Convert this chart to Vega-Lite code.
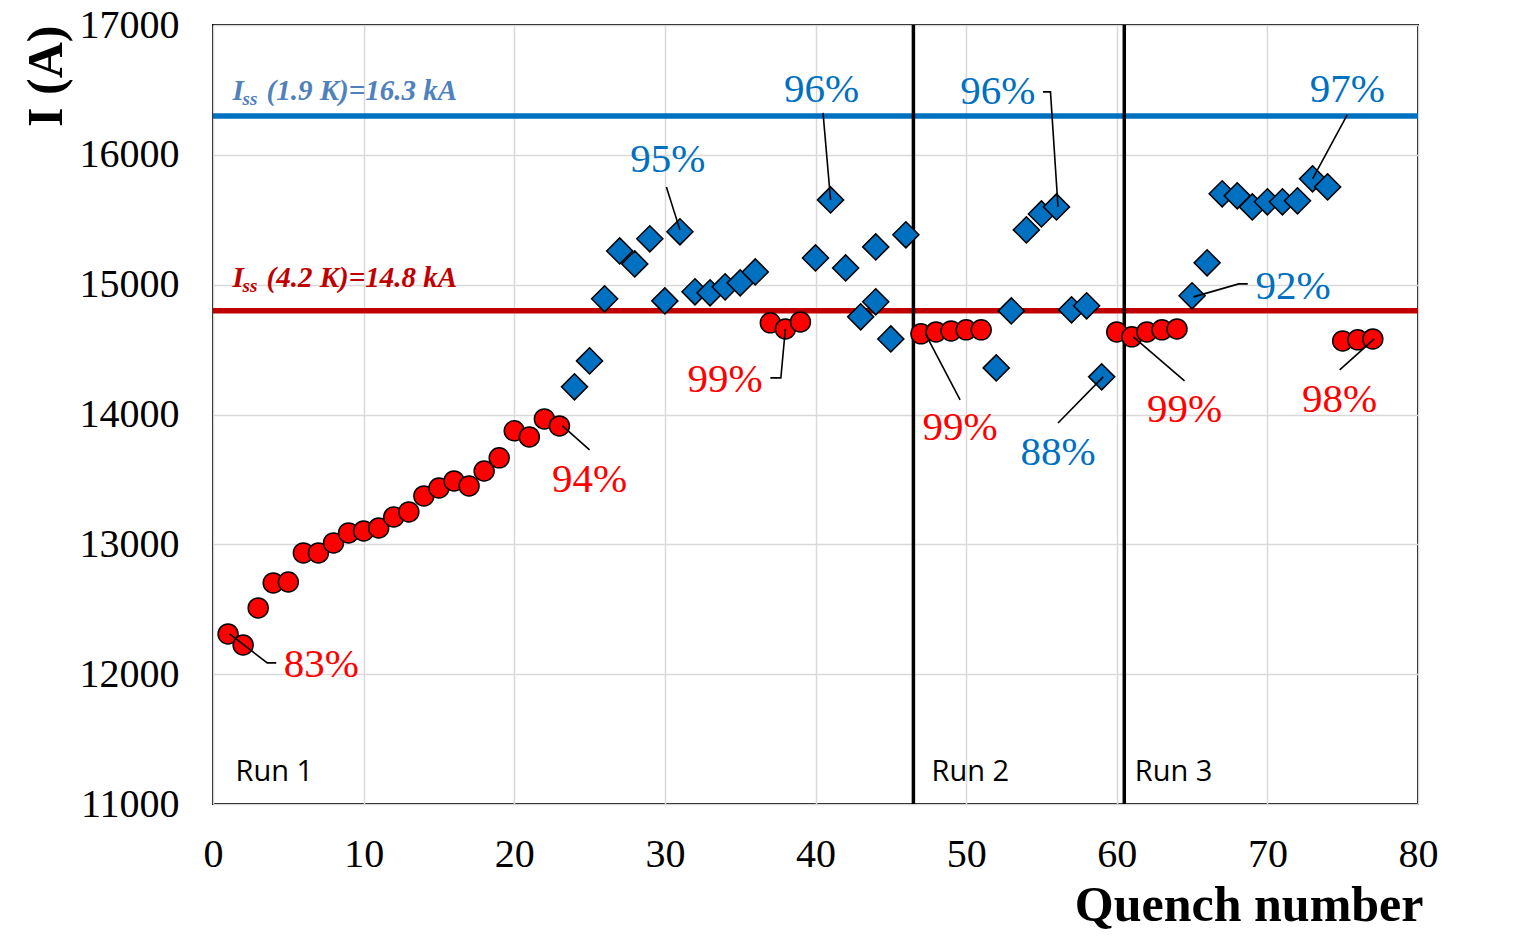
{
  "$schema": "https://vega.github.io/schema/vega-lite/v6.json",
  "width": 1205,
  "height": 779,
  "autosize": "none",
  "padding": {"left": 213, "top": 25, "right": 99, "bottom": 140},
  "background": "white",
  "config": {
    "view": {"stroke": "#000000", "strokeWidth": 2},
    "axis": {
      "labelFont": "Liberation Serif",
      "labelFontSize": 40,
      "labelColor": "#000000",
      "titleFont": "Liberation Serif",
      "titleFontSize": 50,
      "titleFontWeight": "bold",
      "titleColor": "#000000",
      "gridColor": "#D9D9D9",
      "gridWidth": 1.5,
      "domain": false,
      "ticks": false,
      "labelFlush": false,
      "labelOverlap": false
    }
  },
  "resolve": {"scale": {"color": "independent"}},
  "datasets": {
    "points": [
      {"q": 1, "I": 12310, "t": "4.2"}, {"q": 2, "I": 12225, "t": "4.2"}, {"q": 3, "I": 12510, "t": "4.2"},
      {"q": 4, "I": 12703, "t": "4.2"}, {"q": 5, "I": 12710, "t": "4.2"}, {"q": 6, "I": 12934, "t": "4.2"},
      {"q": 7, "I": 12934, "t": "4.2"}, {"q": 8, "I": 13011, "t": "4.2"}, {"q": 9, "I": 13088, "t": "4.2"},
      {"q": 10, "I": 13103, "t": "4.2"}, {"q": 11, "I": 13126, "t": "4.2"}, {"q": 12, "I": 13211, "t": "4.2"},
      {"q": 13, "I": 13250, "t": "4.2"}, {"q": 14, "I": 13373, "t": "4.2"}, {"q": 15, "I": 13434, "t": "4.2"},
      {"q": 16, "I": 13488, "t": "4.2"}, {"q": 17, "I": 13450, "t": "4.2"}, {"q": 18, "I": 13565, "t": "4.2"},
      {"q": 19, "I": 13666, "t": "4.2"}, {"q": 20, "I": 13874, "t": "4.2"}, {"q": 21, "I": 13827, "t": "4.2"},
      {"q": 22, "I": 13966, "t": "4.2"}, {"q": 23, "I": 13912, "t": "4.2"},
      {"q": 24, "I": 14213, "t": "1.9"}, {"q": 25, "I": 14413, "t": "1.9"}, {"q": 26, "I": 14891, "t": "1.9"},
      {"q": 27, "I": 15260, "t": "1.9"}, {"q": 28, "I": 15160, "t": "1.9"}, {"q": 29, "I": 15353, "t": "1.9"},
      {"q": 30, "I": 14875, "t": "1.9"}, {"q": 31, "I": 15407, "t": "1.9"}, {"q": 32, "I": 14945, "t": "1.9"},
      {"q": 33, "I": 14937, "t": "1.9"}, {"q": 34, "I": 14983, "t": "1.9"}, {"q": 35, "I": 15014, "t": "1.9"},
      {"q": 36, "I": 15098, "t": "1.9"},
      {"q": 37, "I": 14706, "t": "4.2"}, {"q": 38, "I": 14659, "t": "4.2"}, {"q": 39, "I": 14713, "t": "4.2"},
      {"q": 40, "I": 15206, "t": "1.9"}, {"q": 41, "I": 15653, "t": "1.9"}, {"q": 42, "I": 15129, "t": "1.9"},
      {"q": 43, "I": 14752, "t": "1.9"}, {"q": 44, "I": 14868, "t": "1.9"}, {"q": 44, "I": 15291, "t": "1.9"},
      {"q": 45, "I": 14582, "t": "1.9"}, {"q": 46, "I": 15384, "t": "1.9"},
      {"q": 47, "I": 14621, "t": "4.2"}, {"q": 48, "I": 14636, "t": "4.2"}, {"q": 49, "I": 14644, "t": "4.2"},
      {"q": 50, "I": 14652, "t": "4.2"}, {"q": 51, "I": 14652, "t": "4.2"},
      {"q": 52, "I": 14359, "t": "1.9"}, {"q": 53, "I": 14798, "t": "1.9"}, {"q": 54, "I": 15422, "t": "1.9"},
      {"q": 55, "I": 15545, "t": "1.9"}, {"q": 56, "I": 15599, "t": "1.9"}, {"q": 57, "I": 14806, "t": "1.9"},
      {"q": 58, "I": 14837, "t": "1.9"}, {"q": 59, "I": 14290, "t": "1.9"},
      {"q": 60, "I": 14636, "t": "4.2"}, {"q": 61, "I": 14598, "t": "4.2"}, {"q": 62, "I": 14636, "t": "4.2"},
      {"q": 63, "I": 14652, "t": "4.2"}, {"q": 64, "I": 14659, "t": "4.2"},
      {"q": 65, "I": 14914, "t": "1.9"}, {"q": 66, "I": 15168, "t": "1.9"}, {"q": 67, "I": 15700, "t": "1.9"},
      {"q": 68, "I": 15684, "t": "1.9"}, {"q": 69, "I": 15599, "t": "1.9"}, {"q": 70, "I": 15638, "t": "1.9"},
      {"q": 71, "I": 15638, "t": "1.9"}, {"q": 72, "I": 15646, "t": "1.9"}, {"q": 73, "I": 15815, "t": "1.9"},
      {"q": 74, "I": 15753, "t": "1.9"},
      {"q": 75, "I": 14567, "t": "4.2"}, {"q": 76, "I": 14575, "t": "4.2"}, {"q": 77, "I": 14582, "t": "4.2"}
    ],
    "limits": [
      {"I": 16300, "t": "1.9"},
      {"I": 14800, "t": "4.2"}
    ],
    "runs": [
      {"q": 46.5},
      {"q": 60.5}
    ],
    "runlabels": [
      {"q": 1.5, "I": 11246, "label": "Run 1"},
      {"q": 47.7, "I": 11246, "label": "Run 2"},
      {"q": 61.2, "I": 11246, "label": "Run 3"}
    ],
    "isslabels": [
      {"q": 1.3, "I": 16424, "t": "1.9", "rest": "(1.9 K)=16.3 kA"},
      {"q": 1.3, "I": 14983, "t": "4.2", "rest": "(4.2 K)=14.8 kA"}
    ],
    "pct": [
      {"q": 7.2, "I": 12071, "t": "4.2", "label": "83%"},
      {"q": 25.0, "I": 13496, "t": "4.2", "label": "94%"},
      {"q": 30.2, "I": 15961, "t": "1.9", "label": "95%"},
      {"q": 34.0, "I": 14267, "t": "4.2", "label": "99%"},
      {"q": 40.4, "I": 16501, "t": "1.9", "label": "96%"},
      {"q": 52.1, "I": 16485, "t": "1.9", "label": "96%"},
      {"q": 49.6, "I": 13897, "t": "4.2", "label": "99%"},
      {"q": 56.1, "I": 13704, "t": "1.9", "label": "88%"},
      {"q": 64.5, "I": 14035, "t": "4.2", "label": "99%"},
      {"q": 71.7, "I": 14983, "t": "1.9", "label": "92%"},
      {"q": 75.3, "I": 16501, "t": "1.9", "label": "97%"},
      {"q": 74.8, "I": 14112, "t": "4.2", "label": "98%"}
    ],
    "leaders": [
      {"id": "a", "s": 1, "q": 1.1, "I": 12310}, {"id": "a", "s": 2, "q": 3.6, "I": 12087}, {"id": "a", "s": 3, "q": 4.2, "I": 12087},
      {"id": "b", "s": 1, "q": 23.2, "I": 13912}, {"id": "b", "s": 2, "q": 25.0, "I": 13727},
      {"id": "c", "s": 1, "q": 30.1, "I": 15753}, {"id": "c", "s": 2, "q": 31.0, "I": 15422},
      {"id": "d", "s": 1, "q": 37.0, "I": 14282}, {"id": "d", "s": 2, "q": 37.7, "I": 14282}, {"id": "d", "s": 3, "q": 38.0, "I": 14659},
      {"id": "e", "s": 1, "q": 40.5, "I": 16323}, {"id": "e", "s": 2, "q": 41.0, "I": 15653},
      {"id": "f", "s": 1, "q": 55.1, "I": 16485}, {"id": "f", "s": 2, "q": 55.6, "I": 16485}, {"id": "f", "s": 3, "q": 56.1, "I": 15599},
      {"id": "g", "s": 1, "q": 47.3, "I": 14621}, {"id": "g", "s": 2, "q": 49.6, "I": 14113},
      {"id": "h", "s": 1, "q": 56.1, "I": 13935}, {"id": "h", "s": 2, "q": 59.1, "I": 14290},
      {"id": "i", "s": 1, "q": 61.1, "I": 14598}, {"id": "i", "s": 2, "q": 64.5, "I": 14259},
      {"id": "j", "s": 1, "q": 65.1, "I": 14906}, {"id": "j", "s": 2, "q": 68.1, "I": 15006}, {"id": "j", "s": 3, "q": 68.7, "I": 15006},
      {"id": "k", "s": 1, "q": 75.3, "I": 16308}, {"id": "k", "s": 2, "q": 73.0, "I": 15815},
      {"id": "l", "s": 1, "q": 74.8, "I": 14344}, {"id": "l", "s": 2, "q": 77.1, "I": 14582}
    ]
  },
  "encoding": {
    "x": {
      "field": "q", "type": "quantitative",
      "scale": {"domain": [0, 80], "nice": false, "zero": false},
      "axis": {"title": "Quench number", "values": [0, 10, 20, 30, 40, 50, 60, 70, 80], "labelPadding": 30, "titleAnchor": "end", "titleAlign": "right", "titleX": 1210, "titlePadding": 6}
    },
    "y": {
      "field": "I", "type": "quantitative",
      "scale": {"domain": [11000, 17000], "nice": false, "zero": false},
      "axis": {"title": "I (A)", "values": [11000, 12000, 13000, 14000, 15000, 16000, 17000], "format": "d", "labelPadding": 34, "titleAnchor": "end", "titlePadding": 8}
    }
  },
  "layer": [
    {
      "data": {"name": "limits"},
      "mark": {"type": "rule", "strokeWidth": 5.5},
      "encoding": {
        "x": null,
        "y": {"field": "I", "type": "quantitative"},
        "color": {"field": "t", "type": "nominal", "scale": {"domain": ["1.9", "4.2"], "range": ["#0070C0", "#C00000"]}, "legend": null}
      }
    },
    {
      "data": {"name": "runs"},
      "mark": {"type": "rule", "strokeWidth": 3.5, "color": "#000000"},
      "encoding": {
        "y": null,
        "x": {"field": "q", "type": "quantitative"}
      }
    },
    {
      "data": {"name": "points"},
      "mark": {"type": "point", "filled": true, "stroke": "#000000", "strokeWidth": 1.5, "opacity": 1},
      "encoding": {
        "shape": {"field": "t", "type": "nominal", "scale": {"domain": ["1.9", "4.2"], "range": ["diamond", "circle"]}, "legend": null},
        "fill": {"field": "t", "type": "nominal", "scale": {"domain": ["1.9", "4.2"], "range": ["#0070C0", "#FF0000"]}, "legend": null},
        "size": {"field": "t", "type": "nominal", "scale": {"domain": ["1.9", "4.2"], "range": [680, 400]}, "legend": null}
      }
    },
    {
      "data": {"name": "leaders"},
      "mark": {"type": "line", "color": "#000000", "strokeWidth": 1.6},
      "encoding": {
        "detail": {"field": "id", "type": "nominal"},
        "order": {"field": "s", "type": "quantitative"}
      }
    },
    {
      "data": {"name": "pct"},
      "mark": {"type": "text", "font": "Liberation Serif", "fontSize": 41, "align": "center", "baseline": "middle"},
      "encoding": {
        "text": {"field": "label"},
        "color": {"field": "t", "type": "nominal", "scale": {"domain": ["1.9", "4.2"], "range": ["#0070C0", "#FF0000"]}, "legend": null}
      }
    },
    {
      "data": {"name": "isslabels"},
      "mark": {"type": "text", "font": "Liberation Serif", "fontSize": 29, "fontStyle": "italic", "fontWeight": "bold", "align": "left", "baseline": "alphabetic"},
      "encoding": {
        "text": {"value": "I"},
        "color": {"field": "t", "type": "nominal", "scale": {"domain": ["1.9", "4.2"], "range": ["#4F81BD", "#C00000"]}, "legend": null}
      }
    },
    {
      "data": {"name": "isslabels"},
      "mark": {"type": "text", "font": "Liberation Serif", "fontSize": 19, "fontStyle": "italic", "fontWeight": "bold", "align": "left", "baseline": "alphabetic", "dx": 10, "dy": 5},
      "encoding": {
        "text": {"value": "ss"},
        "color": {"field": "t", "type": "nominal", "scale": {"domain": ["1.9", "4.2"], "range": ["#4F81BD", "#C00000"]}, "legend": null}
      }
    },
    {
      "data": {"name": "isslabels"},
      "mark": {"type": "text", "font": "Liberation Serif", "fontSize": 29, "fontStyle": "italic", "fontWeight": "bold", "align": "left", "baseline": "alphabetic", "dx": 34},
      "encoding": {
        "text": {"field": "rest"},
        "color": {"field": "t", "type": "nominal", "scale": {"domain": ["1.9", "4.2"], "range": ["#4F81BD", "#C00000"]}, "legend": null}
      }
    },
    {
      "data": {"name": "runlabels"},
      "mark": {"type": "text", "font": "Open Sans", "fontSize": 29, "align": "left", "baseline": "middle", "color": "#000000"},
      "encoding": {
        "text": {"field": "label"}
      }
    }
  ]
}
